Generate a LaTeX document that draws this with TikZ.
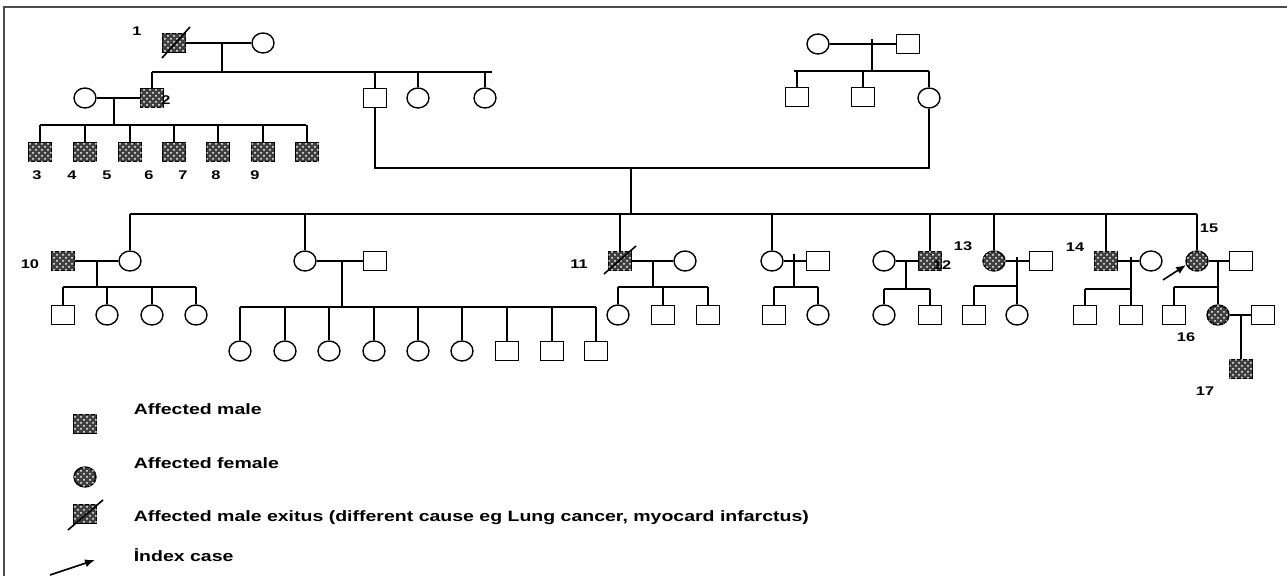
\documentclass[tikz,border=0pt]{standalone}
\usepackage{fontspec}
\newfontfamily\pedfont[FakeStretch=1.3]{Liberation Sans}
\usetikzlibrary{calc,arrows.meta,shapes.geometric,patterns}

\tikzset{
  male/.style={draw, rectangle, minimum width=11.5pt, minimum height=9.5pt, inner sep=0pt, line width=0.7pt},
  female/.style={draw, ellipse, minimum width=11pt, minimum height=10pt, inner sep=0pt, line width=0.7pt},
  affected/.style={fill=black!75, postaction={pattern=crosshatch dots, pattern color=white}},
  idnum/.style={font={\pedfont\bfseries\fontsize{6.3}{7}\selectfont}, inner sep=0pt},
  legtext/.style={anchor=west, inner sep=0pt, font={\pedfont\bfseries\fontsize{7.5}{9}\selectfont}},
}

\begin{document}
\begin{tikzpicture}[x=0.5pt,y=-0.5pt,line width=0.8pt]
        \useasboundingbox (0,0) rectangle (1287,576);
        \draw[line width=0.6pt,black!70] (4,576) -- (4,7) -- (1287,7);
        % generation I, father's side
        \node[male,affected] (p1) at (174,43) {};
        \node[idnum] (n1) at (137,31) {1};
        \node[female] (p1w) at (263,43) {};
        \draw (p1.east) -- (p1w.west);
        \draw ($(p1)+(-12,15)$) -- ($(p1)+(16,-16)$);
        \coordinate (m1) at (222,43);
        \coordinate (s1L) at (152,72);
        \coordinate (s1R) at (492,72);
        \draw (m1) -- (m1 |- s1L);
        \draw (s1L) -- (s1R);
        \node[male,affected] (p2) at (152,98) {};
        \node[male] (fa) at (375,98) {};
        \node[female] (fs1) at (418,98) {};
        \node[female] (fs2) at (485,98) {};
        \foreach \n in {p2,fa,fs1,fs2} \draw (\n.north) -- (\n |- s1L);
        \node[idnum] (n2) at (166,100) {2};
        % family of 2
        \node[female] (p2w) at (85,98) {};
        \draw (p2w.east) -- (p2.west);
        \coordinate (m2) at (114,98);
        \coordinate (s2L) at (40,125);
        \coordinate (s2R) at (306,125);
        \draw (m2) -- (m2 |- s2L);
        \draw (s2L) -- (s2R);
        \foreach \x/\i/\lx in {40/3/37,85/4/72,130/5/107,174/6/149,218/7/183,263/8/216,307/9/255} {
          \node[male,affected] (p\i) at (\x,152) {};
          \draw (p\i.north) -- (p\i |- s2L);
          \node[idnum] (n\i) at (\lx,175) {\i};
        }
        % generation I, mother's side
        \node[female] (gm) at (818,44) {};
        \node[male] (gf) at (908,44) {};
        \draw (gm.east) -- (gf.west);
        \coordinate (m3) at (872,39);
        \coordinate (s3L) at (794,71);
        \coordinate (s3R) at (929,71);
        \draw (m3) -- (m3 |- s3L);
        \draw (s3L) -- (s3R);
        \node[male] (ms1) at (797,97) {};
        \node[male] (ms2) at (863,97) {};
        \node[female] (mo) at (929,98) {};
        \foreach \n in {ms1,ms2,mo} \draw (\n.north) -- (\n |- s3L);
        % parents
        \coordinate (uL) at (375,168);
        \coordinate (uR) at (929,168);
        \draw (fa.south) -- (uL) -- (uR) -- (mo.south);
        \coordinate (um) at (631,168);
        \coordinate (s4L) at (130,214);
        \coordinate (s4R) at (1197,214);
        \draw (um) -- (um |- s4L);
        \draw (s4L) -- (s4R);
        % generation III
        \node[female] (a1) at (130,261) {};
        \node[female] (b1) at (305,261) {};
        \node[male,affected] (p11) at (620,261) {};
        \node[female] (d1) at (772,261) {};
        \node[male,affected] (p12) at (930,261) {};
        \node[female,affected] (p13) at (994,261) {};
        \node[male,affected] (p14) at (1106,261) {};
        \node[female,affected] (p15) at (1197,261) {};
        \foreach \n in {a1,b1,p11,d1,p12,p13,p14,p15} \draw (\n.north) -- (\n |- s4L);
        % family of 10
        \node[male,affected] (p10) at (63,261) {};
        \node[idnum] (n10) at (30,264) {10};
        \draw (p10.east) -- (a1.west);
        \coordinate (ma) at (97,261);
        \coordinate (saL) at (63,287);
        \coordinate (saR) at (196,287);
        \draw (ma) -- (ma |- saL);
        \draw (saL) -- (saR);
        \foreach \x/\s [count=\i] in {63/male,107/female,152/female,196/female} {
          \node[\s] (a\i c) at (\x,315) {};
          \draw (a\i c.north) -- (a\i c |- saL);
        }
        % family of b1
        \node[male] (b2) at (375,261) {};
        \draw (b1.east) -- (b2.west);
        \coordinate (mb) at (342,261);
        \coordinate (sbL) at (240,307);
        \coordinate (sbR) at (596,307);
        \draw (mb) -- (mb |- sbL);
        \draw (sbL) -- (sbR);
        \foreach \x/\s [count=\i] in {240/female,285/female,329/female,374/female,418/female,462/female,507/male,552/male,596/male} {
          \node[\s] (b\i c) at (\x,351) {};
          \draw (b\i c.north) -- (b\i c |- sbL);
        }
        % family of 11
        \node[idnum] (n11) at (579,264) {11};
        \draw ($(p11)+(-16,13)$) -- ($(p11)+(16,-15)$);
        \node[female] (c2) at (685,261) {};
        \draw (p11.east) -- (c2.west);
        \coordinate (mc) at (653,261);
        \coordinate (scL) at (618,287);
        \coordinate (scR) at (708,287);
        \draw (mc) -- (mc |- scL);
        \draw (scL) -- (scR);
        \foreach \x/\s [count=\i] in {618/female,663/male,708/male} {
          \node[\s] (c\i c) at (\x,315) {};
          \draw (c\i c.north) -- (c\i c |- scL);
        }
        % family of d1
        \node[male] (d2) at (818,261) {};
        \draw (d1.east) -- (d2.west);
        \coordinate (md) at (794,254);
        \coordinate (sdL) at (774,287);
        \coordinate (sdR) at (818,287);
        \draw (md) -- (md |- sdL);
        \draw (sdL) -- (sdR);
        \foreach \x/\s [count=\i] in {774/male,818/female} {
          \node[\s] (d\i c) at (\x,315) {};
          \draw (d\i c.north) -- (d\i c |- sdL);
        }
        % family of 12
        \node[female] (e1) at (884,261) {};
        \draw (e1.east) -- (p12.west);
        \node[idnum] (n12) at (942,265) {12};
        \coordinate (me) at (906,261);
        \coordinate (seL) at (884,289);
        \coordinate (seR) at (930,289);
        \draw (me) -- (me |- seL);
        \draw (seL) -- (seR);
        \foreach \x/\s [count=\i] in {884/female,930/male} {
          \node[\s] (e\i c) at (\x,315) {};
          \draw (e\i c.north) -- (e\i c |- seL);
        }
        % family of 13
        \node[idnum] (n13) at (963,246) {13};
        \node[male] (f2) at (1041,261) {};
        \draw (p13.east) -- (f2.west);
        \coordinate (mf) at (1017,257);
        \coordinate (sfL) at (974,286);
        \draw (sfL) -- (sfL -| mf);
        \node[male] (f1c) at (974,315) {};
        \node[female] (f2c) at (1017,315) {};
        \draw (mf) -- (f2c.north);
        \draw (f1c.north) -- (sfL);
        % family of 14
        \node[idnum] (n14) at (1075,247) {14};
        \node[female] (g2) at (1151,261) {};
        \draw (p14.east) -- (g2.west);
        \coordinate (mg) at (1131,257);
        \coordinate (sgL) at (1085,289);
        \draw (sgL) -- (sgL -| mg);
        \node[male] (g1c) at (1085,315) {};
        \node[male] (g2c) at (1131,315) {};
        \draw (mg) -- (g2c.north);
        \draw (g1c.north) -- (sgL);
        % family of 15 (index case)
        \node[idnum] (n15) at (1209,228) {15};
        \coordinate (ix) at (1163,280);
        \draw[-{Latex[length=5pt,width=4pt]}] (ix) -- (p15.200);
        \node[male] (h2) at (1241,261) {};
        \draw (p15.east) -- (h2.west);
        \coordinate (mh) at (1218,261);
        \coordinate (shL) at (1174,287);
        \draw (shL) -- (shL -| mh);
        \node[male] (h1c) at (1174,315) {};
        \node[female,affected] (p16) at (1218,315) {};
        \draw (mh) -- (p16.north);
        \draw (h1c.north) -- (shL);
        \node[idnum] (n16) at (1186,337) {16};
        % family of 16
        \node[male] (i2) at (1263,315) {};
        \draw (p16.east) -- (i2.west);
        \coordinate (mi) at (1241,315);
        \node[male,affected] (p17) at (1241,369) {};
        \draw (mi) -- (p17.north);
        \node[idnum] (n17) at (1205,391) {17};
        % legend
        \node[male,affected] (lm) at (85,424) {};
        \node[legtext] (tm) at (133,409) {Affected male};
        \node[female,affected] (lf) at (85,477) {};
        \node[legtext] (tf) at (133,463) {Affected female};
        \node[male,affected] (lx) at (85,514) {};
        \draw ($(lx)+(-17,16)$) -- ($(lx)+(18,-14)$);
        \node[legtext] (tx) at (133,518) {Affected male exitus (different cause eg Lung cancer, myocard infarctus)};
        \coordinate (la0) at (50,575);
        \coordinate (la1) at (95,560);
        \draw[-{Latex[length=5pt,width=4pt]}] (la0) -- (la1);
        \node[legtext] (ti) at (133,555) {İndex case};
      \end{tikzpicture}
\end{document}
